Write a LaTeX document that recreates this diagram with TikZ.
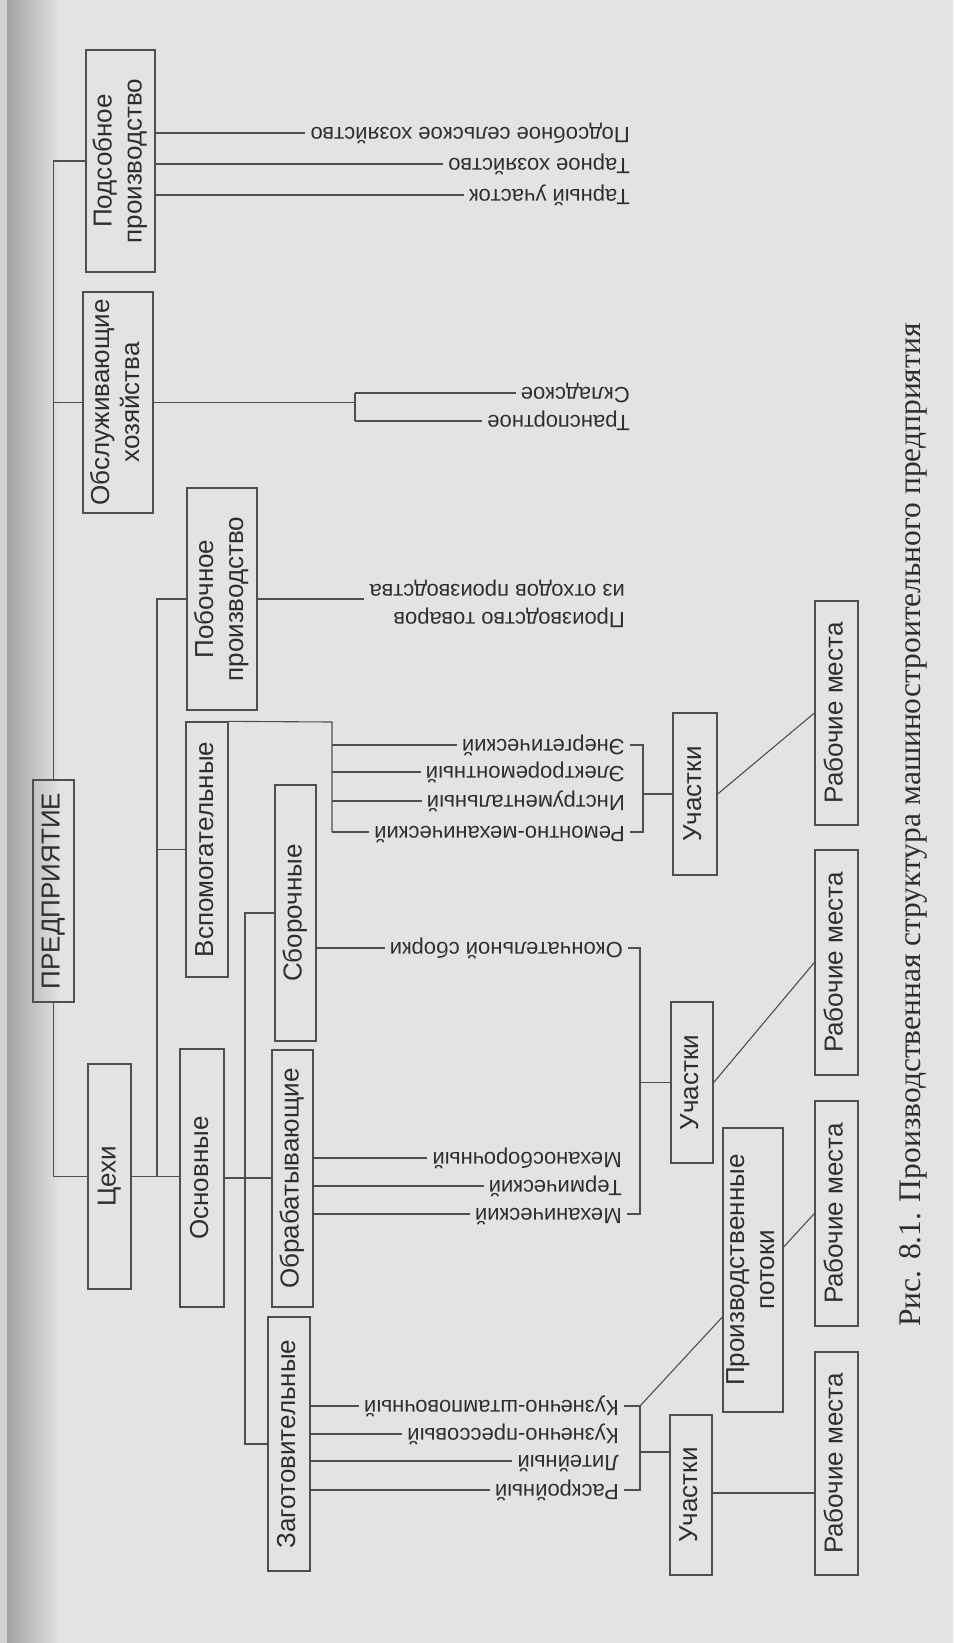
\documentclass[tikz,border=0pt]{standalone}
\usepackage{fontspec}
\setmainfont{Liberation Sans}
\newfontfamily\capfamily{Liberation Serif}
\definecolor{bg}{HTML}{E3E3E3}
\definecolor{ln}{HTML}{4F4F4F}
\definecolor{tx}{HTML}{2E2E2E}
\definecolor{edge}{HTML}{A2A2A2}
\newcommand\rtext[1]{\rotatebox{90}{\begin{tabular}{@{}c@{}}#1\end{tabular}}}
\begin{document}
\begin{tikzpicture}[x=1pt,y=-1pt,
  box/.style={draw=ln, line width=1.3pt, inner sep=0pt, text=tx, font=\fontsize{26}{30}\selectfont},
  leaf/.style={rotate=180, anchor=west, inner xsep=5pt, inner ysep=0pt, text=tx,
     font=\fontsize{22}{27}\selectfont, text height=16pt, text depth=5pt},
  leaftwo/.style={rotate=180, anchor=west, inner xsep=5pt, inner ysep=0pt, text=tx,
     font=\fontsize{22}{28}\selectfont, align=left},
  conn/.style={draw=ln, line width=1.1pt}]
\useasboundingbox (0,0) rectangle (953,1643);
\fill[bg] (0,0) rectangle (953,1643);
\fill[black!18] (0,0) rectangle (7,1643);
\shade[left color=edge, right color=bg] (7,0) rectangle (60,1643);

% boxes
\node[box, minimum width=69pt, minimum height=222pt] (pods) at (120.5,161) {\rtext{Подсобное\\производство}};
\node[box, minimum width=70pt, minimum height=221pt] (obsl) at (118,402.5) {\rtext{Обслуживающие\\хозяйства}};
\node[box, minimum width=70pt, minimum height=222pt] (poboch) at (222,599) {\rtext{Побочное\\производство}};
\node[box, minimum width=42pt, minimum height=255pt] (vspom) at (207,849.5) {\rtext{Вспомогательные}};
\node[box, minimum width=41pt, minimum height=222pt] (pred) at (53.5,891) {\rtext{ПРЕДПРИЯТИЕ}};
\node[box, minimum width=43pt, minimum height=225pt] (cehi) at (109.5,1176.5) {\rtext{Цехи}};
\node[box, minimum width=44pt, minimum height=258pt] (osn) at (202,1178) {\rtext{Основные}};
\node[box, minimum width=41pt, minimum height=256pt] (sbor) at (295.5,913) {\rtext{Сборочные}};
\node[box, minimum width=41pt, minimum height=257pt] (obrab) at (292.5,1178.5) {\rtext{Обрабатывающие}};
\node[box, minimum width=42pt, minimum height=254pt] (zag) at (289,1444) {\rtext{Заготовительные}};
\node[box, minimum width=44pt, minimum height=162pt] (uch1) at (695,794) {\rtext{Участки}};
\node[box, minimum width=42pt, minimum height=161pt] (uch2) at (692,1082.5) {\rtext{Участки}};
\node[box, minimum width=42pt, minimum height=160pt] (uch3) at (691,1495) {\rtext{Участки}};
\node[box, minimum width=60pt, minimum height=284pt] (pp) at (753,1270) {\rtext{Производственные\\потоки}};
\node[box, minimum width=43pt, minimum height=224pt] (rm1) at (836.5,713) {\rtext{Рабочие места}};
\node[box, minimum width=43pt, minimum height=225pt] (rm2) at (836.5,962.5) {\rtext{Рабочие места}};
\node[box, minimum width=43pt, minimum height=225pt] (rm3) at (836.5,1213.5) {\rtext{Рабочие места}};
\node[box, minimum width=43pt, minimum height=223pt] (rm4) at (836.5,1463.5) {\rtext{Рабочие места}};

% leaf labels (printed upside down)
\node[leaf] (l1) at (635,133) {Подсобное сельское хозяйство};
\node[leaf] (l2) at (635,164) {Тарное хозяйство};
\node[leaf] (l3) at (635,195) {Тарный участок};
\node[leaf] (l4) at (635,393) {Складское};
\node[leaf] (l5) at (635,421) {Транспортное};
\node[leaftwo] (l6) at (630,604) {Производство товаров\\из отходов производства};
\node[leaf] (l7) at (630,745) {Энергетический};
\node[leaf] (l8) at (630,772) {Электроремонтный};
\node[leaf] (l9) at (630,801) {Инструментальный};
\node[leaf] (l10) at (630,832) {Ремонтно-механический};
\node[leaf] (l11) at (628,948) {Окончательной сборки};
\node[leaf] (l12) at (627,1158) {Механосборочный};
\node[leaf] (l13) at (627,1186) {Термический};
\node[leaf] (l14) at (627,1214) {Механический};
\node[leaf] (l15) at (624,1406) {Кузнечно-штамповочный};
\node[leaf] (l16) at (624,1434) {Кузнечно-прессовый};
\node[leaf] (l17) at (624,1461) {Литейный};
\node[leaf] (l18) at (624,1490) {Раскройный};

% caption
\node[rotate=90, text=tx, font=\capfamily\fontsize{31.5}{36}\selectfont] (cap) at (913,825)
  {Рис. 8.1. Производственная структура машиностроительного предприятия};

% connectors
\draw[conn] (pred.north) -- (pred.north |- pods.west) -- (pods.west);
\draw[conn] (pred.north |- obsl.west) -- (obsl.west);
\draw[conn] (pred.south) |- (cehi.west);
\coordinate (j1) at (157,1176.5);
\draw[conn] (cehi.east) -- (osn.west |- cehi.east);
\draw[conn] (j1) |- (poboch.west);
\draw[conn] (j1 |- vspom.west) -- (vspom.west);
\coordinate (j2) at (245,1178);
\draw[conn] (osn.east) -- (obrab.west |- osn.east);
\draw[conn] (sbor.west) -| (j2 |- zag.west) -- (zag.west);

\foreach \l in {l1,l2,l3} \draw[conn] (pods.east |- \l) -- (\l.east);
\coordinate (ob) at (355,402.5);
\draw[conn] (obsl.east) -- (ob);
\draw[conn] (ob |- l4) -- (ob |- l5);
\draw[conn] (ob |- l4) -- (l4.east);
\draw[conn] (ob |- l5) -- (l5.east);
\draw[conn] (poboch.east) -- (poboch.east -| l6.east);

\coordinate (vs) at (332,722);
\draw[conn] (vspom.north east) -- (vs) -- (vs |- l10);
\foreach \l in {l7,l8,l9,l10} \draw[conn] (vs |- \l) -- (\l.east);
\coordinate (rb1) at (643,0);
\draw[conn] (l7.west) -- (l7.west -| rb1) -- (l10.west -| rb1) -- (l10.west);
\draw[conn] (uch1.west -| rb1) -- (uch1.west);
\draw[conn] (uch1.east) -- (rm1.west);

\draw[conn] (sbor.east |- l11) -- (l11.east);
\coordinate (rb2) at (640,0);
\draw[conn] (l11.west) -- (l11.west -| rb2) -- (l14.west -| rb2) -- (l14.west);
\draw[conn] (uch2.west -| rb2) -- (uch2.west);
\draw[conn] (uch2.east) -- (rm2.west);
\foreach \l in {l12,l13,l14} \draw[conn] (obrab.east |- \l) -- (\l.east);

\foreach \l in {l15,l16,l17,l18} \draw[conn] (zag.east |- \l) -- (\l.east);
\draw[conn] (l15.west) -- (l15.west -| rb2) -- (l18.west -| rb2) -- (l18.west);
\coordinate (zj) at (640,1452);
\draw[conn] (zj) -- (zj -| uch3.west);
\coordinate (ppin) at ([yshift=-47pt]pp.west);
\draw[conn] (l15.west -| rb2) -- (ppin);
\draw[conn] ([yshift=23pt]pp.east) -- (rm3.west);
\coordinate (u3o) at ([yshift=2pt]uch3.east);
\draw[conn] (u3o) -- (u3o -| rm4.west);
\end{tikzpicture}
\end{document}
